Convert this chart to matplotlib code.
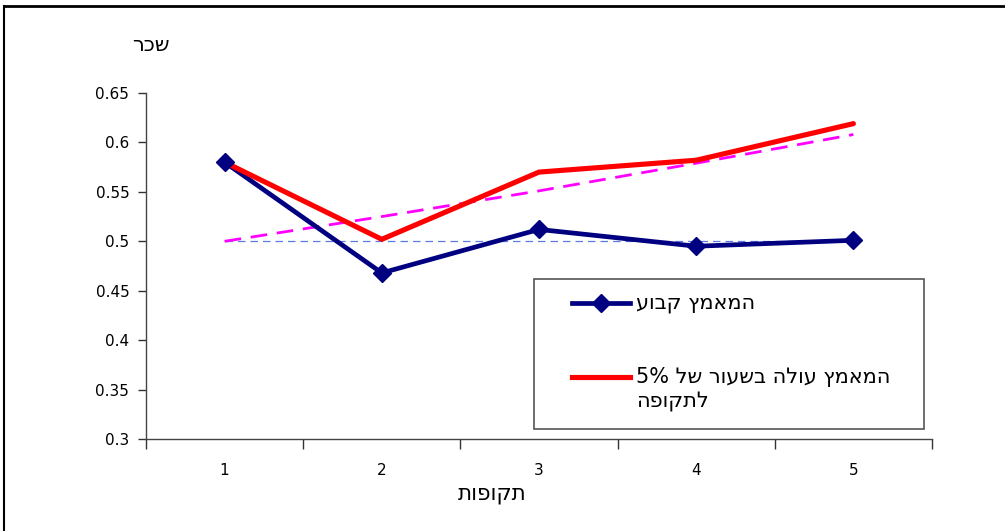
import numpy as np
import matplotlib
matplotlib.use("Agg")
import matplotlib.pyplot as plt
from matplotlib.lines import Line2D
from matplotlib.patches import Rectangle

plt.rcParams['font.family'] = ['DejaVu Sans', 'Liberation Sans']

# periods and wage series
periods = [1, 2, 3, 4, 5]
wage_fixed = [0.580, 0.468, 0.512, 0.495, 0.501]      # effort held constant
wage_rising = [0.580, 0.502, 0.570, 0.582, 0.619]     # effort rising 5% per period
ref_fixed = [0.5, 0.5, 0.5, 0.5, 0.5]                 # reference level, constant effort
ref_rising = [0.500, 0.525, 0.551, 0.579, 0.608]      # reference level, rising effort
y_ticks = [0.3, 0.35, 0.4, 0.45, 0.5, 0.55, 0.6, 0.65]


def heb(s):
    # matplotlib has no bidi support: flip Hebrew runs for visual order
    return s[::-1]


W, H = 1005, 531
fig = plt.figure(figsize=(W / 100, H / 100), dpi=100)
ax = fig.add_axes([146 / W, 1 - 439 / H, 786 / W, 346 / H])

ax.plot(periods, ref_fixed, color='#5B7BE0', lw=0.9, ls=(0, (6, 4)), zorder=2)
ax.plot(periods, ref_rising, color='#FF00FF', lw=2.0, ls=(0, (6, 3.5)), zorder=2)
ax.plot(periods, wage_fixed, color='#000080', lw=3.4, zorder=3,
        solid_joinstyle='round', solid_capstyle='round')
ax.plot(periods, wage_rising, color='#FF0000', lw=3.7, zorder=4,
        solid_joinstyle='round', solid_capstyle='round')
ax.plot(periods, wage_fixed, ls='none', marker='D', ms=9.5,
        color='#000080', zorder=5)

ax.set_xlim(0.5, 5.5)
ax.set_ylim(0.3, 0.65)
ax.set_yticks(y_ticks)
ax.set_yticklabels([f'{v:g}' for v in y_ticks], fontsize=11)
ax.set_xticks(periods)
ax.set_xticklabels([str(p) for p in periods], fontsize=11)
ax.set_xticks(np.arange(0.5, 6.0, 1.0), minor=True)
ax.tick_params(axis='x', which='major', length=0, pad=17)
ax.tick_params(axis='x', which='minor', length=7, width=1, color='#333333', direction='out')
ax.tick_params(axis='y', length=6, width=1, color='#333333', direction='out', pad=6)

for side in ('top', 'right'):
    ax.spines[side].set_visible(False)
for side in ('left', 'bottom'):
    ax.spines[side].set_color('#444444')
    ax.spines[side].set_linewidth(1.0)

# axis titles
fig.text(151 / W, 1 - 45 / H, heb('שכר'), fontsize=15, ha='center', va='center')
fig.text(492 / W, 1 - 494 / H, heb('תקופות'), fontsize=15.5, ha='center', va='center')

# legend box
tf = fig.transFigure
fig.patches.append(Rectangle((534 / W, 1 - 429 / H), 390 / W, 150 / H, transform=tf,
                             fill=False, edgecolor='#555555', lw=1.2, zorder=6))
fig.lines.append(Line2D([572 / W, 630 / W], [1 - 303 / H, 1 - 303 / H], transform=tf,
                        color='#000080', lw=3.4, zorder=7))
fig.lines.append(Line2D([601 / W], [1 - 303 / H], transform=tf, ls='none', marker='D',
                        ms=9.5, color='#000080', zorder=8))
fig.lines.append(Line2D([572 / W, 630 / W], [1 - 377 / H, 1 - 377 / H], transform=tf,
                        color='#FF0000', lw=3.7, zorder=7))
fig.text(636 / W, 1 - 303 / H, heb('המאמץ קבוע'), fontsize=15, ha='left', va='center')
fig.text(636 / W, 1 - 377 / H, '5% ' + heb('המאמץ עולה בשעור של'), fontsize=15,
         ha='left', va='center')
fig.text(636 / W, 1 - 402 / H, heb('לתקופה'), fontsize=15, ha='left', va='center')

# chart frame
fig.lines.append(Line2D([4 / W, 4 / W], [0, 1 - 6 / H], transform=tf, color='black', lw=1.5))
fig.lines.append(Line2D([4 / W, 1], [1 - 6 / H, 1 - 6 / H], transform=tf, color='black', lw=2.0))

fig.savefig('out.png', dpi=100, facecolor='white')
